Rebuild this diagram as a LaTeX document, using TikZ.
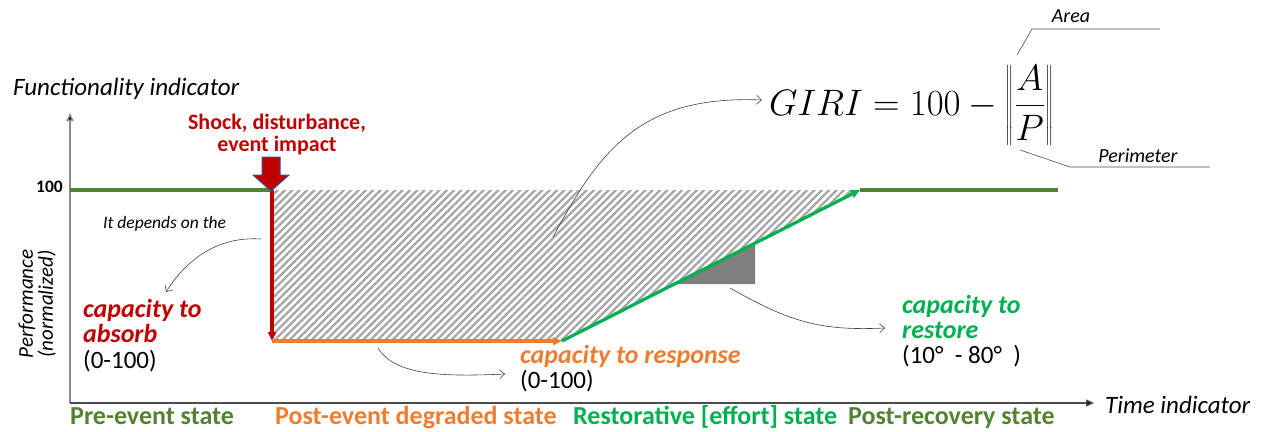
\documentclass[tikz,border=0pt]{standalone}
\usepackage{fontspec}
\usepackage{graphicx}
\setmainfont{Carlito}
\usetikzlibrary{arrows.meta,patterns.meta}

\definecolor{olivegreen}{HTML}{548235}
\definecolor{darkred}{HTML}{C00000}
\definecolor{sorange}{HTML}{ED7D31}
\definecolor{brightgreen}{HTML}{00B050}
\definecolor{hatchgray}{HTML}{A6A6A6}
\definecolor{wedgegray}{HTML}{7F7F7F}
\definecolor{shockedge}{HTML}{2F5597}

\tikzset{
  lbl/.style={inner sep=0pt, anchor=base west},
  axisline/.style={line width=1.4pt, -{Triangle[length=8pt,width=7pt]}},
  level/.style={olivegreen, line width=3.5pt},
  phase/.style={line width=3.2pt, -{Triangle[length=9pt,width=8pt]}},
  note/.style={black!75, line width=0.6pt, -{Straight Barb[length=5pt,width=9pt]}},
  leader/.style={black!70, line width=0.6pt},
  capfont/.style={font=\fontsize{26}{25}\selectfont\bfseries\itshape},
  rangefont/.style={font=\fontsize{25}{27}\selectfont},
  statefont/.style={font=\fontsize{26}{28}\selectfont\bfseries},
}

\begin{document}
\begin{tikzpicture}[x=1pt,y=-1pt]
\useasboundingbox (0,0) rectangle (1263,431);

% key points of the performance curve
\coordinate (origin) at (70,403);
\coordinate (ytop) at (70,113);
\coordinate (xend) at (1094,403);
\coordinate (pre) at (70,190);
\coordinate (shock) at (272,190);
\coordinate (low) at (272,341);
\coordinate (resp) at (562,341);
\coordinate (rec) at (860,190);
\coordinate (post) at (1058,190);

% lost-performance area
\fill[pattern={Lines[angle=45,distance=5.2pt,line width=2.3pt]}, pattern color=hatchgray]
  (shock) -- (rec) -- (resp) -- (low) -- cycle;

% restoration slope wedge
\fill[wedgegray] (674,284) -- (755,284) -- (755,243) -- cycle;

% axes
\draw[axisline, draw=black!45, -{Triangle[length=8pt,width=7pt,fill=black]}] (origin) -- (ytop);
\draw[axisline, draw=black!70, -{Triangle[length=8pt,width=7pt,fill=black]}] (origin) -- (xend);

% performance curve
\draw[level] (pre) -- (shock);
\draw[level] (rec) -- (post);
\draw[phase, darkred] (shock) -- (low);
\draw[phase, sorange] (low) -- (resp);
\draw[phase, brightgreen] (resp) -- (rec);

% shock block arrow
\draw[fill=darkred, draw=shockedge, line width=1pt, line join=miter]
  (262,157) -- (280,157) -- (280,175) -- (289,175) -- (271,191) -- (253,175) -- (262,175) -- cycle;

% titles and axis labels
\node[lbl, font=\fontsize{25}{28}\selectfont\itshape] (ftitle) at (13,95) {Functionality indicator};
\node[lbl, font=\fontsize{25}{28}\selectfont\itshape] (ttitle) at (1105,413) {Time indicator};
\node[inner sep=0pt, anchor=base east, font=\fontsize{17.5}{20}\selectfont\bfseries] (hundred) at (63,192) {100};
\node[inner sep=0pt, rotate=90, align=center, font=\fontsize{21}{20}\selectfont\itshape] (perf) at (37,304)
  {Performance\\(normalized)};

\node[inner sep=0pt, align=center, text=darkred, font=\fontsize{22}{22}\selectfont\bfseries, anchor=base]
  (shocktxt) at (277,151) {Shock, disturbance,\\event impact};

% capacities
\node[lbl, font=\fontsize{17.5}{20}\selectfont\itshape] (depends) at (103,228) {It depends on the};
\node[lbl, capfont, text=darkred, align=left] (absorb) at (83,342) {capacity to\\absorb};
\node[lbl, rangefont] (absorbr) at (83,368) {(0-100)};

\node[lbl, capfont, text=sorange] (response) at (520,363) {capacity to response};
\node[lbl, rangefont] (responser) at (520,388) {(0-100)};

\node[lbl, capfont, text=brightgreen, align=left] (restore) at (902,338) {capacity to\\restore};
\node[lbl, rangefont] (restorer) at (902,363) {(10°\ \ -\ 80°\ \ )};

% index formula
\node[lbl, font=\fontsize{24.88}{28}\selectfont] (giri) at (769,115)
  {\scalebox{1.48}{$\displaystyle GIRI = 100 - \left\|\frac{A}{P}\right\|$}};
\node[inner sep=0pt, anchor=base, font=\fontsize{20}{22}\selectfont\itshape] (area) at (1071,22) {Area};
\node[inner sep=0pt, anchor=base, font=\fontsize{20}{22}\selectfont\itshape] (perim) at (1138,162) {Perimeter};
\draw[leader] (1017,55) -- (1032,29) -- (1160,29);
\draw[leader] (1020,150) -- (1070,167) -- (1210,167);

% annotation arrows
\coordinate (a0) at (261,239);
\coordinate (a1) at (166,292);
\draw[note] (a0) .. controls (215,236) and (185,262) .. (a1);
\coordinate (r0) at (378,348);
\coordinate (r1) at (505,374);
\draw[note] (r0) .. controls (395,375) and (440,377) .. (r1);
\coordinate (s0) at (730,288);
\coordinate (s1) at (885,328);
\draw[note] (s0) .. controls (790,322) and (820,331) .. (s1);
\coordinate (g0) at (553,237);
\coordinate (g1) at (762,100);
\draw[note] (g0) .. controls (600,150) and (640,95) .. (g1);

% phases along the time axis
\node[lbl, statefont, text=olivegreen] (s1t) at (70,424) {Pre-event state};
\node[lbl, statefont, text=sorange] (s2t) at (275,424) {Post-event degraded state};
\node[lbl, statefont, text=brightgreen] (s3t) at (573,424) {Restorative [effort] state};
\node[lbl, statefont, text=olivegreen] (s4t) at (848,424) {Post-recovery state};
\end{tikzpicture}
\end{document}
